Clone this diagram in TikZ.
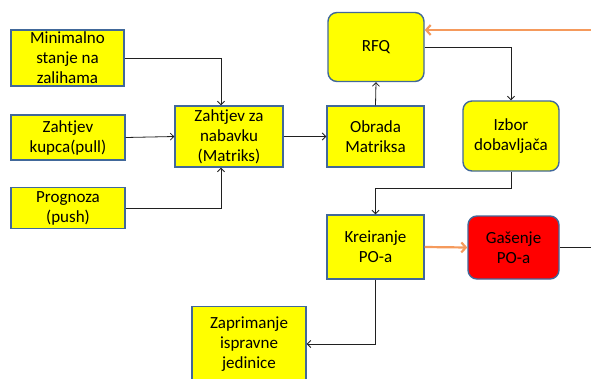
\documentclass[tikz,border=0pt]{standalone}
\usepackage{fontspec}
\setmainfont{Carlito}
\usetikzlibrary{arrows.meta,positioning,calc}
\definecolor{boxyellow}{HTML}{FFFF00}
\definecolor{boxred}{HTML}{FF0000}
\definecolor{boxedge}{HTML}{41689A}
\definecolor{flowgray}{HTML}{202020}
\definecolor{flowor}{HTML}{F59A5C}

\begin{document}
\begin{tikzpicture}[x=1pt,y=-1pt,
  box/.style={draw=boxedge,line width=1.4pt,fill=boxyellow,align=center,inner sep=0pt,
    font=\fontsize{17}{20}\selectfont,text=black},
  rbox/.style={box,rounded corners=9pt},
  arr/.style={-{Straight Barb[length=3.5pt,width=7pt]},line width=0.8pt,flowgray},
  oarr/.style={-{Straight Barb[length=4.5pt,width=10pt]},line width=2.2pt,flowor}
]
\useasboundingbox (0,0) rectangle (591,378);
\node[box,minimum width=113pt,minimum height=56pt] (min) at (67.5,58) {Minimalno\\stanje na\\zalihama};
\node[box,minimum width=114pt,minimum height=45pt] (kupac) at (68,137.5) {Zahtjev\\kupca(pull)};
\node[box,minimum width=114pt,minimum height=41pt] (prog) at (68,208) {Prognoza\\(push)};
\node[box,minimum width=108pt,minimum height=61pt] (zahtjev) at (229,136.5) {Zahtjev za\\nabavku\\(Matriks)};
\node[box,minimum width=97pt,minimum height=61pt] (obrada) at (375.5,136.5) {Obrada\\Matriksa};
\node[rbox,minimum width=96pt,minimum height=69pt] (rfq) at (376,47) {RFQ};
\node[rbox,minimum width=96pt,minimum height=70pt] (izbor) at (511,136) {Izbor\\dobavljača};
\node[box,minimum width=97pt,minimum height=64pt] (kreir) at (375.5,247) {Kreiranje\\PO-a};
\node[rbox,fill=boxred,minimum width=91pt,minimum height=63pt] (gasenje) at (513.5,247.5) {Gašenje\\PO-a};
\node[box,minimum width=114pt,minimum height=75pt] (zaprim) at (249,344) {Zaprimanje\\ispravne\\jedinice};

\coordinate (rfqin) at (591,30);
\coordinate (gasout) at (591,247.5);

% ulazi u zahtjev
\draw[arr] (min.east) -| ([xshift=-8pt]zahtjev.north);
\draw[arr] (kupac.east) -- (zahtjev.west);
\draw[arr] (prog.east) -| ([xshift=-8pt]zahtjev.south);

\draw[arr] (zahtjev.east) -- (obrada.west);
\draw[arr] (obrada.north) -- (rfq.south);
\draw[arr] (rfq.east) -| (izbor.north);
\draw[arr] (izbor.south) -- ++(0,17) -| (kreir.north);
\draw[arr] (kreir.south) |- (zaprim.east);

\draw[oarr] (rfqin) -- (rfqin -| rfq.east);
\draw[oarr] (kreir.east) -- (gasenje.west);
\draw[line width=0.8pt,flowgray] (gasenje.east) -- (gasout);
\end{tikzpicture}
\end{document}
